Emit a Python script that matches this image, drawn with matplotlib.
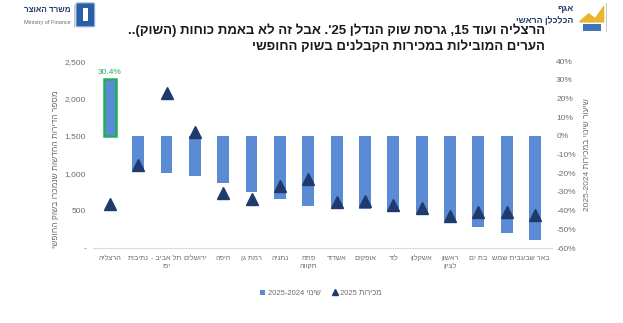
import re
import matplotlib
matplotlib.use("Agg")
import matplotlib.pyplot as plt
from matplotlib.patches import FancyBboxPatch, Rectangle, Polygon
from matplotlib.lines import Line2D

plt.rcParams['font.family'] = ['Liberation Sans', 'DejaVu Sans']


def rtl(s):
    # matplotlib has no bidi support: put hebrew lines into visual order
    out = []
    for line in s.split("\n"):
        r = line[::-1]
        r = re.sub(r"[0-9][0-9,.\-]*[0-9]|[0-9]|[A-Za-z]+", lambda m: m.group(0)[::-1], r)
        r = r.translate(str.maketrans("()", ")("))
        out.append(r)
    return "\n".join(out)


# data
cities = ["הרצליה", "נתיבות", "תל אביב -\nיפו", "ירושלים", "חיפה", "רמת גן", "נתניה",
          "פתח\nתקווה", "אשדוד", "אופקים", "לוד", "אשקלון", "ראשון\nלציון", "בת ים",
          "בית שמש", "באר שבע"]
change = [0.304, -0.182, -0.20, -0.217, -0.253, -0.301, -0.339, -0.373, -0.378,
          -0.392, -0.405, -0.416, -0.459, -0.488, -0.518, -0.559]
sales = [590, 1110, 2070, 1555, 730, 650, 830, 920, 620, 630, 575, 540, 430, 485, 485, 440]
left_ticks = [0, 500, 1000, 1500, 2000, 2500]
left_labels = ["-", "500", "1,000", "1,500", "2,000", "2,500"]
right_ticks = [-0.6, -0.5, -0.4, -0.3, -0.2, -0.1, 0, 0.1, 0.2, 0.3, 0.4]

title1 = "הרצליה ועוד 15, גרסת שוק הנדלן 25'. אבל זה לא באמת כוחות (השוק).."
title2 = "הערים המובילות במכירות הקבלנים בשוק החופשי"

bar_c = "#5B8BD5"
tri_c = "#1F3B6E"
green = "#1FAE5B"
grey = "#6E6E6E"

fig = plt.figure(figsize=(6.23, 3.23), dpi=100)
ax = fig.add_axes([0.149, 0.232, 0.737, 0.579])
ax2 = ax.twinx()
x = range(len(cities))

# bars on the right (percent) axis
bars = ax2.bar(x, change, width=0.42, color=bar_c, zorder=2)
bars[0].set_edgecolor(green)
bars[0].set_linewidth(1.8)
ax2.text(0, change[0] + 0.015, "30.4%", color=green, fontsize=6, ha="center", va="bottom")
ax2.set_ylim(-0.6, 0.4)
ax2.set_yticks(right_ticks)
ax2.set_yticklabels([f"{int(round(t*100))}%" for t in right_ticks])

# triangles on the left axis, drawn above the bars
ax.plot(list(x), sales, ls="none", marker="^", ms=8, color=tri_c)
ax.set_ylim(0, 2500)
ax.set_yticks(left_ticks)
ax.set_yticklabels(left_labels)
ax.set_zorder(ax2.get_zorder() + 1)
ax.patch.set_visible(False)
ax.set_xlim(-0.6, len(cities) - 0.4)
ax.set_xticks(list(x))
ax.set_xticklabels([rtl(c) for c in cities], color=grey, linespacing=1.1)

for a in (ax, ax2):
    for s in ("top", "left", "right"):
        a.spines[s].set_visible(False)
    a.spines["bottom"].set_color("#D9D9D9")
    a.tick_params(axis="y", length=0, labelsize=6, labelcolor=grey, pad=5)
ax2.spines["bottom"].set_visible(False)
ax2.tick_params(axis="y", pad=3)
ax.tick_params(axis="x", length=0, labelsize=5.2, labelcolor=grey, pad=5)

ax.set_ylabel(rtl("מספר הדירות החדשות שנמכרו בשוק החופשי"), fontsize=6, color=grey)
ax.yaxis.set_label_coords(-0.072, 0.42)
ax2.set_ylabel(rtl("שיעור שינוי במכירות 2025-2024"), fontsize=6, color=grey)
ax2.yaxis.set_label_coords(1.07, 0.5)

# legend
handles = [Rectangle((0, 0), 1, 1, fc=bar_c, ec="none"),
           Line2D([], [], ls="none", marker="^", ms=4.5, color=tri_c)]
labels = [rtl("שינוי 2025-2024"), rtl("מכירות 2025")]
fig.legend(handles, labels, loc="center", bbox_to_anchor=(0.515, 0.092), ncol=2,
           frameon=False, fontsize=5.5, labelcolor=grey, handlelength=0.6, handleheight=0.6,
           columnspacing=1.5, handletextpad=0.4)

# title
fig.text(0.875, 0.905, rtl(title1), ha="right", va="center", fontsize=9.5,
         fontweight="bold", color="#1A1A1A")
fig.text(0.875, 0.855, rtl(title2), ha="right", va="center", fontsize=9.5,
         fontweight="bold", color="#1A1A1A")

# header: ministry of finance (left)
fig.text(0.113, 0.966, rtl("משרד האוצר"), ha="right", va="center", fontsize=5.8,
         fontweight="bold", color="#1F3B6E")
fig.text(0.113, 0.93, "Ministry of Finance", ha="right", va="center", fontsize=4, color=grey)
fig.add_artist(Line2D([0.119, 0.119], [0.915, 0.985], color="#BFBFBF", lw=0.6))
fig.add_artist(FancyBboxPatch((0.125, 0.92), 0.024, 0.068, boxstyle="round,pad=0.003",
                              transform=fig.transFigure, fc="#2A5FA8", ec="#9DB7DD", lw=0.8))
fig.add_artist(Rectangle((0.133, 0.935), 0.008, 0.04, transform=fig.transFigure,
                         fc="white", ec="none"))

# header: chief economist (right)
fig.text(0.92, 0.975, rtl("אגף"), ha="right", va="center", fontsize=6.3,
         fontweight="bold", color="#1F3B6E")
fig.text(0.92, 0.938, rtl("הכלכלן הראשי"), ha="right", va="center", fontsize=6.3,
         fontweight="bold", color="#1F3B6E")
fig.add_artist(Polygon([[0.93, 0.935], [0.945, 0.96], [0.955, 0.945], [0.97, 0.985],
                        [0.97, 0.93], [0.93, 0.93]], closed=True,
                       transform=fig.transFigure, fc="#E8B52C", ec="none"))
fig.add_artist(Rectangle((0.935, 0.905), 0.03, 0.022, transform=fig.transFigure,
                         fc="#3E74B8", ec="none"))
fig.add_artist(Line2D([0.973, 0.973], [0.905, 0.99], color="#BFBFBF", lw=0.6))

fig.savefig("out.png", dpi=100)
